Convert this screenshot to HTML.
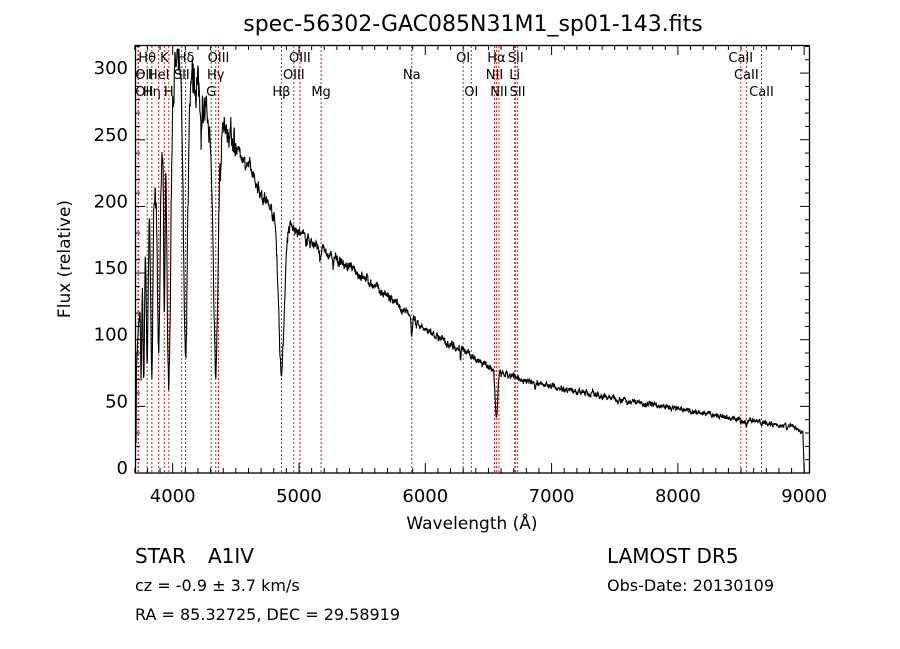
<!DOCTYPE html>
<html><head><meta charset="utf-8"><style>
body{margin:0;background:#fff;}
svg{display:block;font-family:"DejaVu Sans","Liberation Sans",sans-serif;}
</style></head><body>
<svg id="s" width="900" height="649" xmlns="http://www.w3.org/2000/svg">
<rect width="900" height="649" fill="#fff"/>
<text x="473" y="31" font-size="22" text-anchor="middle">spec-56302-GAC085N31M1_sp01-143.fits</text>
<g id="lines"></g>
<svg x="135" y="45" width="675" height="428" viewBox="135 45 675 428" overflow="hidden"><g id="spec"></g></svg>
<rect x="135.5" y="45.5" width="674" height="427.5" fill="none" stroke="#000" stroke-width="1.3"/>
<g id="ticks" stroke="#000" stroke-width="1"></g>
<g id="tl" font-size="18" text-anchor="middle"></g>
<text x="472" y="529" font-size="17" text-anchor="middle">Wavelength (Å)</text>
<text transform="translate(70,259) rotate(-90)" font-size="17" text-anchor="middle">Flux (relative)</text>
<text x="135" y="563" font-size="20">STAR</text>
<text x="208" y="563" font-size="20">A1IV</text>
<text x="135" y="591" font-size="16">cz = -0.9 ± 3.7 km/s</text>
<text x="135" y="620" font-size="16">RA =  85.32725, DEC =  29.58919</text>
<text x="607" y="563" font-size="20">LAMOST DR5</text>
<text x="607" y="591" font-size="16">Obs-Date: 20130109</text>
</svg>
<script>
var NS="http://www.w3.org/2000/svg";
function X(w){return 134.8+(w-3700)*0.1263;}
function Y(f){return 473-1.333*f;}
function el(p,t,a,txt){var e=document.createElementNS(NS,t);for(var k in a)e.setAttribute(k,a[k]);if(txt)e.textContent=txt;p.appendChild(e);return e;}
var L=document.getElementById('lines');
var ln=[[3727,"OII",3],[3727,"OII",2],[3798,"Hθ",1],[3835,"Hη",3],[3889,"HeI",2],[3934,"K",1],[3969,"H",3],[4072,"SII",2],[4102,"Hδ",1],[4305,"G",3],[4341,"Hγ",2],[4363,"OIII",1],[4861,"Hβ",3],[4959,"OIII",2],[5007,"OIII",1],[5175,"Mg",3],[5893,"Na",2],[6300,"OI",1],[6364,"OI",3],[6548,"NII",2],[6563,"Hα",1],[6583,"NII",3],[6708,"Li",2],[6716,"SII",1],[6731,"SII",3],[8498,"CaII",1],[8542,"CaII",2],[8662,"CaII",3]];
ln.forEach(function(a){var x=X(a[0]);el(L,'line',{x1:x,x2:x,y1:46,y2:472,stroke:(a[0]>6500&&a[0]<6800)||a[0]>8400?'#c00':'#a00',"stroke-width":1,"stroke-dasharray":"2,2",opacity:0.85});
el(L,'text',{x:x+(a[0]<3760?6:0),y:[0,62,79,96][a[2]],"font-size":13,"text-anchor":"middle"},a[1]);});
var T=document.getElementById('ticks'),TL=document.getElementById('tl');
for(var w=3700;w<=9000;w+=100){var x=X(w),M=w%1000==0;var h=M?10:5;
el(T,'line',{x1:x,x2:x,y1:473,y2:473-h});el(T,'line',{x1:x,x2:x,y1:45,y2:45+h});
if(M)el(TL,'text',{x:x,y:502},String(w));}
for(var f=0;f<=320;f+=10){var y=Y(f),M=f%50==0;var h=M?10:5;
el(T,'line',{x1:135,x2:135+h,y1:y,y2:y});el(T,'line',{x1:810,x2:810-h,y1:y,y2:y});
if(M)el(TL,'text',{x:128,y:y+1,"text-anchor":"end"},String(f));}
var cp=[[3700,60],[3750,140],[3800,180],[3900,230],[4000,300],[4100,308],[4200,290],[4280,262],[4300,250],[4400,260],[4500,245],[4600,230],[4700,210],[4800,195],[4900,187],[5000,180],[5200,166],[5500,148],[5800,124],[6000,107],[6300,92],[6500,80],[6600,74],[7000,65],[7500,56],[8000,48],[8500,40],[8900,35],[8990,30]];
function cont(w){for(var i=0;i<cp.length-1;i++){if(w<=cp[i+1][0]){var t=(w-cp[i][0])/(cp[i+1][0]-cp[i][0]);return cp[i][1]+t*(cp[i+1][1]-cp[i][1]);}}return 30;}
var ab=[[3750,0.5,4],[3771,0.55,5],[3798,0.55,6],[3835,0.6,8],[3889,0.6,10],[3934,0.5,5],[3970,0.75,14],[4102,0.7,16],[4341,0.67,18],[4861,0.6,22],[6563,0.45,10],[4227,0.1,3],[4383,0.08,3],[5170,0.06,5],[5270,0.05,4],[5893,0.12,4],[6280,0.1,3],[6870,0.06,4],[7600,0.05,6],[8498,0.08,4],[8542,0.1,5],[8662,0.1,5],[8750,0.05,4],[8863,0.06,4]];
var seed=7;function r(){seed=(seed*16807)%2147483647;return seed/2147483647-0.5;}
var pts=[],sm=0;
for(var w=3700;w<=9000;w+=2.5){var c=cont(w),m=1;ab.forEach(function(a){var d=(w-a[0])/a[2];m*=1-a[1]*Math.exp(-d*d/2);});
sm=0.6*sm+r();
var f=c*m+(sm*(w<4500?8:4)+r()*(w<4500?6:3))*(c/150+0.3);if(w>8990)f=(9000-w)*3;if(w<3712)f=r()*60+30;pts.push(X(w).toFixed(1)+","+Y(Math.max(0,Math.min(330,f))).toFixed(1));}
el(document.getElementById('spec'),'polyline',{points:pts.join(" "),fill:"none",stroke:"#000","stroke-width":1.1});
</script>
</body></html>
